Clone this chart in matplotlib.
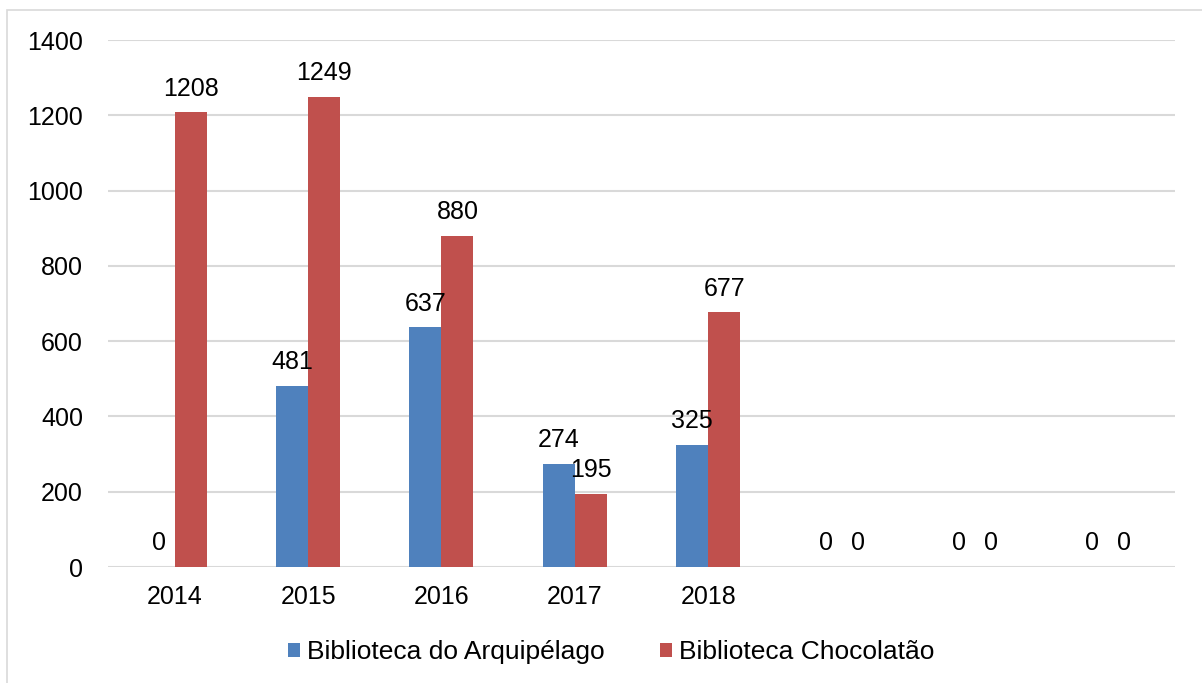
import matplotlib.pyplot as plt
import numpy as np
from matplotlib.patches import Rectangle

plt.rcParams['font.family'] = ['Liberation Sans', 'DejaVu Sans']

# data
categories = ['2014', '2015', '2016', '2017', '2018', '', '', '']
arquipelago = [0, 481, 637, 274, 325, 0, 0, 0]
chocolatao = [1208, 1249, 880, 195, 677, 0, 0, 0]
yticks = [0, 200, 400, 600, 800, 1000, 1200, 1400]

blue = '#4F81BD'
red = '#C0504D'
fs = 18

fig = plt.figure(figsize=(12.02, 6.83), dpi=100)
ax = fig.add_axes([0.0899, 0.1698, 0.8876, 0.7716])

# light border around the chart area
fig.patches.append(Rectangle((7 / 1202, -0.1), 1.2, 1 - 10 / 683 + 0.1,
                             transform=fig.transFigure, fill=False,
                             edgecolor='#d9d9d9', linewidth=1.2))

x = np.arange(len(categories))
w = 0.24
b1 = ax.bar(x - w / 2, arquipelago, w, color=blue, label='Biblioteca do Arquipélago')
b2 = ax.bar(x + w / 2, chocolatao, w, color=red, label='Biblioteca Chocolatão')

for bars, vals in ((b1, arquipelago), (b2, chocolatao)):
    for r, v in zip(bars, vals):
        ax.annotate(str(v), (r.get_x() + r.get_width() / 2, v),
                    xytext=(0, 12), textcoords='offset points',
                    ha='center', va='baseline', fontsize=fs)

ax.set_xlim(-0.5, len(categories) - 0.5)
ax.set_ylim(0, 1400)
ax.set_yticks(yticks)
ax.set_xticks(x)
ax.set_xticklabels(categories)
ax.tick_params(axis='both', length=0, labelsize=fs)
ax.tick_params(axis='y', pad=18)
ax.tick_params(axis='x', pad=13)
ax.grid(axis='y', color='#d9d9d9', linewidth=1.5)
ax.set_axisbelow(True)
for s in ax.spines.values():
    s.set_visible(False)

fig.legend(handles=[b1, b2], loc='center', bbox_to_anchor=(611.5 / 1202, 1 - 652 / 683),
           ncol=2, frameon=False, fontsize=19, handlelength=0.45, handleheight=0.45,
           handletextpad=0.27, columnspacing=2.1)

fig.savefig('out.png', dpi=100)
